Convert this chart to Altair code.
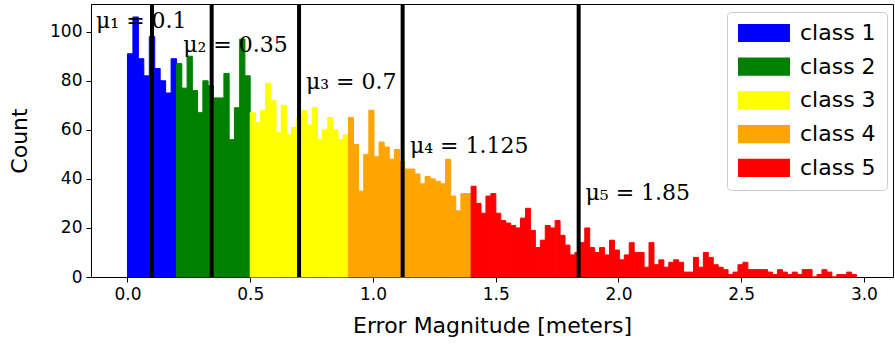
import altair as alt
import pandas as pd

# ---- data ----
class_names = ["class 1", "class 2", "class 3", "class 4", "class 5"]
class_colors = ["#0000ff", "#008000", "#ffff00", "#ffa500", "#ff0000"]
class_lo = [0.0, 0.2, 0.5, 0.9, 1.4]
class_hi = [0.2, 0.5, 0.9, 1.4, 2.97]

counts_1 = [91, 106, 89, 82, 98, 85, 80, 75, 89]
counts_2 = [87, 77, 90, 76, 67, 80, 78, 73, 73, 83, 56, 69, 97, 82]
counts_3 = [67, 63, 68, 79, 72, 59, 70, 58, 61, 65, 68, 62, 69, 56, 60, 65, 60, 56, 58]
counts_4 = [65, 54, 35, 50, 68, 49, 55, 53, 48, 52, 47, 44, 44, 42, 38, 41, 40, 39,
            38, 48, 33, 27, 34, 34]
counts_5 = [37, 30, 26, 33, 34, 26, 23, 22, 21, 20, 24, 28, 19, 12, 15, 21, 20, 23,
            17, 13, 9, 10, 14, 20, 12, 10, 12, 9, 15, 11, 7, 9, 14, 10, 10, 4,
            14, 5, 7, 4, 6, 7, 6, 2, 2, 8, 4, 10, 8, 5, 4, 3, 1, 2, 5, 6, 3, 3,
            3, 3, 2, 1, 3, 2, 1, 2, 1, 3, 3, 0, 1, 3, 2, 0, 1, 1, 2, 1]
all_counts = [counts_1, counts_2, counts_3, counts_4, counts_5]

mu_line_x = [0.1, 0.343, 0.699, 1.121, 1.838]
mu_labels = ["μ₁ = 0.1", "μ₂ = 0.35", "μ₃ = 0.7", "μ₄ = 1.125", "μ₅ = 1.85"]
mu_label_x = [-0.128, 0.227, 0.727, 1.151, 1.866]
mu_label_y = [101.6, 91.8, 76.7, 50.6, 31.4]

x_ticks = [0.0, 0.5, 1.0, 1.5, 2.0, 2.5, 3.0]
y_ticks = [0, 20, 40, 60, 80, 100]
x_domain = [-0.1485, 3.1185]
y_domain = [0, 111.3]

# ---- build tables ----
rows = []
for name, lo, hi, cnts in zip(class_names, class_lo, class_hi, all_counts):
    w = (hi - lo) / len(cnts)
    for i, c in enumerate(cnts):
        rows.append({"start": lo + i * w, "end": lo + (i + 1) * w,
                     "count": c, "base": 0, "cls": name})
bars_df = pd.DataFrame(rows)
lines_df = pd.DataFrame({"pos": mu_line_x})
labels_df = pd.DataFrame({"lx": mu_label_x, "ly": mu_label_y, "label": mu_labels})

FONT = "DejaVu Sans"

x_axis = alt.Axis(values=x_ticks, format=".1f", title="Error Magnitude [meters]",
                  labelFontSize=17, titleFontSize=22, labelFont=FONT, titleFont=FONT,
                  titleFontWeight="normal", labelColor="black", titleColor="black",
                  domainColor="black", tickColor="black", tickSize=5, labelPadding=4,
                  titlePadding=13, grid=False, labelFlush=False)
y_axis = alt.Axis(values=y_ticks, title="Count",
                  labelFontSize=17, titleFontSize=22, labelFont=FONT, titleFont=FONT,
                  titleFontWeight="normal", labelColor="black", titleColor="black",
                  domainColor="black", tickColor="black", tickSize=5, labelPadding=4,
                  titlePadding=18, grid=False, labelFlush=False)

cscale = alt.Scale(domain=class_names, range=class_colors)

bars = alt.Chart(bars_df).mark_rect(strokeWidth=1).encode(
    x=alt.X("start:Q", scale=alt.Scale(domain=x_domain, nice=False, zero=False), axis=x_axis),
    x2="end:Q",
    y=alt.Y("count:Q", scale=alt.Scale(domain=y_domain, nice=False), axis=y_axis),
    y2="base:Q",
    stroke=alt.Stroke("cls:N", scale=cscale, legend=None),
    color=alt.Color("cls:N", scale=cscale,
                    legend=alt.Legend(title=None, orient="none", legendX=636, legendY=8,
                                      symbolType="M-1,-0.35H1V0.35H-1Z", symbolSize=2704,
                                      symbolStrokeWidth=0, symbolOpacity=1,
                                      clipHeight=20, rowPadding=11.7,
                                      labelFontSize=22, labelFont=FONT, labelColor="black",
                                      labelOffset=10, padding=11,
                                      strokeColor="#cccccc", fillColor="white",
                                      cornerRadius=4)),
)

rules = alt.Chart(lines_df).mark_rule(color="black", strokeWidth=4).encode(x="pos:Q")

texts = alt.Chart(labels_df).mark_text(align="left", baseline="alphabetic",
                                       font="DejaVu Serif", fontSize=22, color="black").encode(
    x="lx:Q", y="ly:Q", text="label:N")

chart = alt.layer(bars, rules, texts).properties(
    width=802, height=273,
    autosize=alt.AutoSizeParams(type="none"),
    padding={"left": 91, "top": 4, "right": 2, "bottom": 69},
).configure_view(stroke="black", strokeWidth=1)

chart.save("out.html", embed_options={"renderer": "svg", "actions": False})
